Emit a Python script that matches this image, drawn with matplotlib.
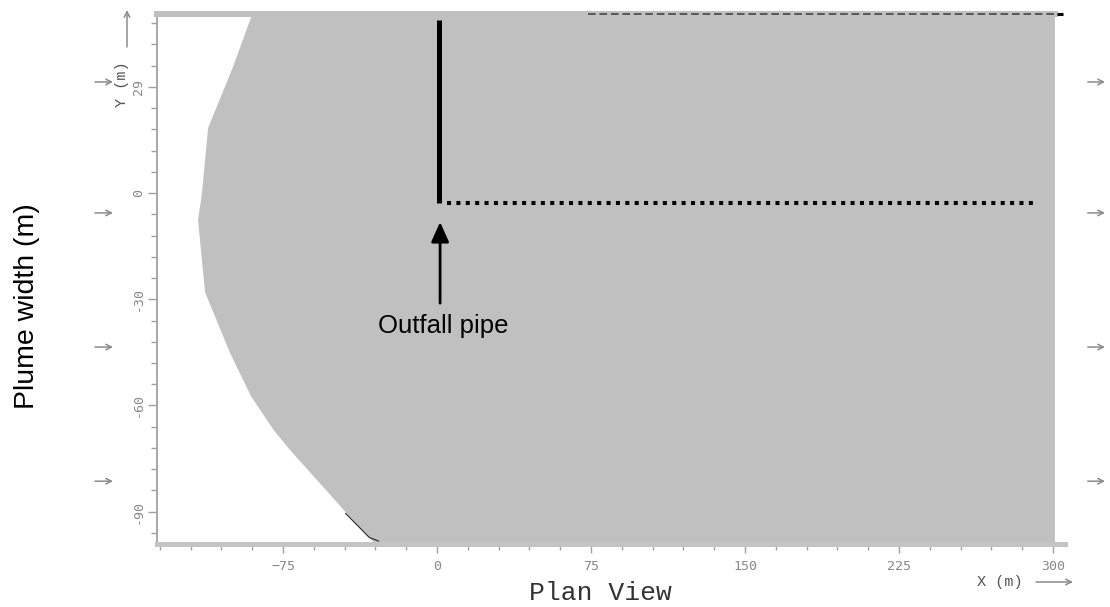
import matplotlib

matplotlib.use("Agg")
import matplotlib.pyplot as plt
import numpy as np

# plume left edge, traced top to bottom (m)
edge_x = [-90, -99.4, -111.5, -114.5, -116.4, -113, -100.8, -90.5, -79.5, -71.6, -55.5, -42.4, -31, -18]
edge_y = [50.6, 35.6, 18.4, 0, -7.6, -28, -45.2, -57.5, -67, -72.6, -83, -91.5, -98.6, -99.2]
plume_end_x = 301
plume_top = 50.6
plume_bottom = -99.2

# dark outline bit at the lower-left edge
outline_x = [-44.5, -33, -28.5]
outline_y = [-90.5, -97.3, -98.3]

# outfall pipe, diffuser and shoreline
pipe_x = [1.2, 1.2]
pipe_y = [48.9, -2.8]
diffuser_x = [4.9, 292.7]
diffuser_y = [-2.8, -2.8]
shore_x = [73.5, 302]
shore_y = [50.6, 50.6]

# current arrows either side of the plot
flow_y = [31.4, -5.6, -43.5, -81.4]
flow_left_x = [-166.6, -157.8]
flow_right_x = [317, 325.4]

x_major = [-75, 0, 75, 150, 225, 300]
y_major = [-90, -60, -30, 0, 30]
y_labels = ["-90", "-60", "-30", "0", "29"]

W, H = 1110, 607
fig = plt.figure(figsize=(W / 100, H / 100), dpi=100)
ax = fig.add_axes([157 / W, (H - 544.2) / H, 908 / W, (544.2 - 14) / H])
ax.set_xlim(-136.4, 305.9)
ax.set_ylim(plume_bottom, plume_top)

xs = edge_x + [plume_end_x, plume_end_x]
ys = edge_y + [plume_bottom, plume_top]
ax.fill(xs, ys, color="#c0c0c0", lw=0, zorder=1)
ax.plot(outline_x, outline_y, color="#222222", lw=0.8, zorder=2)

ax.plot(pipe_x, pipe_y, color="black", lw=3.6, solid_capstyle="butt", zorder=3)
ax.plot(diffuser_x, diffuser_y, color="black", lw=2.9, linestyle=(0, (1, 1.33)),
        dash_capstyle="butt", zorder=3)
ax.plot(shore_x, shore_y, color="#3a3a3a", lw=1.1, linestyle=(0, (5, 2.5)),
        clip_on=False, zorder=4)
ax.plot([shore_x[1], 305], [shore_y[1], shore_y[1]], color="black", lw=2.2,
        solid_capstyle="butt", clip_on=False, zorder=4)

ax.annotate("", xy=(1.5, -8.2), xytext=(1.5, -31.1),
            arrowprops=dict(arrowstyle="-|>,head_length=0.4,head_width=0.18", lw=2,
                            color="black", mutation_scale=30, shrinkA=0, shrinkB=0))
ax.text(2.9, -37.6, "Outfall pipe", ha="center", va="center",
        fontsize=18.5, family="Liberation Sans", color="black")

arrow_kw = dict(arrowstyle="->,head_length=0.5,head_width=0.25", lw=1.1,
                color="#8c8c8c", mutation_scale=8, shrinkA=0, shrinkB=0)
for fy in flow_y:
    ax.annotate("", xy=(flow_left_x[1], fy), xytext=(flow_left_x[0], fy),
                arrowprops=arrow_kw, annotation_clip=False)
    ax.annotate("", xy=(flow_right_x[1], fy), xytext=(flow_right_x[0], fy),
                arrowprops=arrow_kw, annotation_clip=False)

# axis arrows for Y (m) and X (m)
ax.annotate("", xy=(127, H - 10), xytext=(127, H - 47), xycoords="figure pixels",
            textcoords="figure pixels", arrowprops=arrow_kw, annotation_clip=False)
ax.annotate("", xy=(1073, H - 582), xytext=(1036, H - 582), xycoords="figure pixels",
            textcoords="figure pixels", arrowprops=arrow_kw, annotation_clip=False)
fig.text(122 / W, 1 - 84 / H, "Y (m)", rotation=90, ha="center", va="center",
         fontsize=11, family="Liberation Mono", color="#555555")
fig.text(1000 / W, 1 - 582 / H, "X (m)", ha="center", va="center",
         fontsize=11, family="Liberation Mono", color="#555555")
fig.text(600 / W, 1 - 593 / H, "Plan View", ha="center", va="center",
         fontsize=19, family="Liberation Mono", color="#333333")
fig.text(27 / W, 1 - 306 / H, "Plume width (m)", rotation=90, ha="center", va="center",
         fontsize=20.5, family="Liberation Sans", color="black")

# spines
ax.spines["right"].set_visible(False)
ax.spines["top"].set_color("#c0c0c0")
ax.spines["top"].set_linewidth(4.3)
ax.spines["top"].set_bounds(-136.4, plume_end_x)
ax.spines["bottom"].set_color("#c4c4c4")
ax.spines["bottom"].set_linewidth(3.6)
ax.spines["left"].set_color("#a8a8a8")
ax.spines["left"].set_linewidth(1.4)

ax.set_xticks(x_major)
ax.set_xticks(np.arange(-135, 301, 15), minor=True)
ax.set_yticks(y_major)
ax.set_yticklabels(y_labels)
ax.set_yticks(np.arange(-96, 49, 6), minor=True)

ax.tick_params(which="both", direction="out", color="#a0a0a0", width=1.0,
               labelcolor="#888888", labelsize=9.5)
ax.tick_params(which="major", length=6.5)
ax.tick_params(which="minor", length=4.0)
ax.tick_params(axis="x", which="major", pad=5)
ax.tick_params(axis="y", which="major", pad=2, labelrotation=90)
for lbl in ax.get_xticklabels() + ax.get_yticklabels():
    lbl.set_family("DejaVu Sans Mono")
for lbl in ax.get_yticklabels():
    lbl.set_va("center")

fig.savefig("out.png", dpi=100)
